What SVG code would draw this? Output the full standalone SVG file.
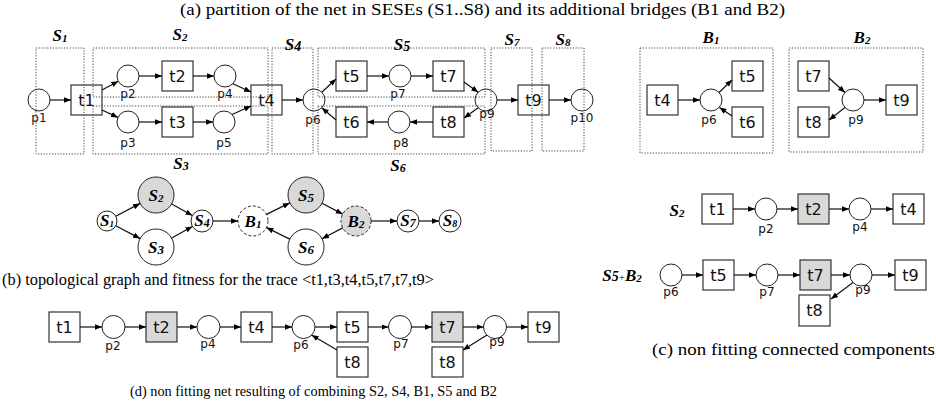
<svg xmlns="http://www.w3.org/2000/svg" width="936" height="409" viewBox="0 0 936 409">
<style>
.t{fill:#fff;stroke:#333;stroke-width:1.2}
.tg{fill:#d9d9d9;stroke:#333;stroke-width:1.2}
.p{fill:#fff;stroke:#222;stroke-width:1}
.pg{fill:#d9d9d9;stroke:#222;stroke-width:1}
.pd{fill:#fff;stroke:#222;stroke-width:1;stroke-dasharray:3 2}
.pdg{fill:#d9d9d9;stroke:#222;stroke-width:1;stroke-dasharray:3 2}
.box{fill:none;stroke:#444;stroke-width:1;stroke-dasharray:1.2 1.6}
.lt{font-family:"DejaVu Sans",sans-serif;font-size:16px;text-anchor:middle;fill:#111}
.lp{font-family:"DejaVu Sans",sans-serif;font-size:12px;text-anchor:middle;fill:#111}
.m{font-family:"Liberation Serif",serif;font-weight:bold;font-style:italic;font-size:17px;text-anchor:middle;fill:#000}
.cap{font-family:"Liberation Serif",serif;fill:#000}
.e{fill:none;stroke:#111;stroke-width:1.2;marker-end:url(#ah)}
</style>
<defs>
<marker id="ah" viewBox="0 0 10 10" refX="10" refY="5" markerWidth="7" markerHeight="7" markerUnits="userSpaceOnUse" orient="auto"><path d="M0,1 L10,5 L0,9 z" fill="#000"/></marker>
</defs>

<text class="cap" x="180" y="15" font-size="16" textLength="605" lengthAdjust="spacingAndGlyphs">(a) partition of the net in SESEs (S1..S8) and its additional bridges (B1 and B2)</text>
<text class="cap" x="2" y="285" font-size="16" textLength="432" lengthAdjust="spacingAndGlyphs">(b) topological graph and fitness for the trace &lt;t1,t3,t4,t5,t7,t7,t9&gt;</text>
<text class="cap" x="652" y="355" font-size="17" textLength="283" lengthAdjust="spacingAndGlyphs">(c) non fitting connected components</text>
<text class="cap" x="130" y="396" font-size="14.5" textLength="367" lengthAdjust="spacingAndGlyphs">(d) non fitting net resulting of combining S2, S4, B1, S5 and B2</text>

<!-- Part (a) nodes -->
<g id="a-p1"><circle class="p" cx="39" cy="100" r="11"/><text class="lp" x="39" y="122">p1</text></g>
<g id="a-t1"><rect class="t" x="71" y="85" width="31" height="30"/><text class="lt" x="86.5" y="106">t1</text></g>
<g id="a-p2"><circle class="p" cx="128" cy="76" r="11"/><text class="lp" x="128" y="98">p2</text></g>
<g id="a-p3"><circle class="p" cx="128" cy="122" r="11"/><text class="lp" x="128" y="147">p3</text></g>
<g id="a-t2"><rect class="t" x="162" y="61" width="31" height="30"/><text class="lt" x="177.5" y="82">t2</text></g>
<g id="a-t3"><rect class="t" x="162" y="107" width="31" height="30"/><text class="lt" x="177.5" y="128">t3</text></g>
<g id="a-p4"><circle class="p" cx="225" cy="76" r="11"/><text class="lp" x="225" y="98">p4</text></g>
<g id="a-p5"><circle class="p" cx="224" cy="122" r="11"/><text class="lp" x="224" y="147">p5</text></g>
<g id="a-t4"><rect class="t" x="251" y="85" width="31" height="30"/><text class="lt" x="266.5" y="106">t4</text></g>
<g id="a-p6"><circle class="p" cx="314" cy="100" r="11"/><text class="lp" x="313" y="124">p6</text></g>
<g id="a-t5"><rect class="t" x="336" y="61" width="31" height="30"/><text class="lt" x="351.5" y="82">t5</text></g>
<g id="a-p7"><circle class="p" cx="400" cy="76" r="11"/><text class="lp" x="398" y="98">p7</text></g>
<g id="a-t7"><rect class="t" x="433" y="61" width="31" height="30"/><text class="lt" x="448.5" y="82">t7</text></g>
<g id="a-t6"><rect class="t" x="336" y="107" width="31" height="30"/><text class="lt" x="351.5" y="128">t6</text></g>
<g id="a-p8"><circle class="p" cx="399" cy="122" r="11"/><text class="lp" x="401" y="147">p8</text></g>
<g id="a-t8"><rect class="t" x="433" y="107" width="31" height="30"/><text class="lt" x="448.5" y="128">t8</text></g>
<g id="a-p9"><circle class="p" cx="486" cy="100" r="11"/><text class="lp" x="487" y="118">p9</text></g>
<g id="a-t9"><rect class="t" x="518" y="85" width="31" height="30"/><text class="lt" x="533.5" y="106">t9</text></g>
<g id="a-p10"><circle class="p" cx="582" cy="100" r="11"/><text class="lp" x="582" y="122">p10</text></g>

<!-- SESE boxes -->
<g id="sese-boxes">
<rect class="box" x="36" y="48" width="48" height="106"/>
<rect class="box" x="93" y="48" width="175" height="49"/>
<rect class="box" x="93" y="106" width="175" height="48"/>
<rect class="box" x="272" y="48" width="41" height="106"/>
<rect class="box" x="318" y="48" width="167" height="49"/>
<rect class="box" x="318" y="106" width="167" height="48"/>
<rect class="box" x="491" y="48" width="41" height="103"/>
<rect class="box" x="542" y="48" width="42" height="103"/>
<rect class="box" x="640" y="48" width="133" height="105"/>
<rect class="box" x="789" y="48" width="134" height="104"/>
<text class="m" x="60" y="41">S<tspan font-size="11" dy="1">1</tspan></text>
<text class="m" x="180" y="40">S<tspan font-size="11" dy="1">2</tspan></text>
<text class="m" x="293" y="50">S<tspan font-size="14" dy="1">4</tspan></text>
<text class="m" x="402" y="50">S<tspan font-size="14" dy="1">5</tspan></text>
<text class="m" x="512" y="45">S<tspan font-size="11" dy="1">7</tspan></text>
<text class="m" x="563" y="45">S<tspan font-size="11" dy="1">8</tspan></text>
<text class="m" x="711" y="43">B<tspan font-size="11" dy="1">1</tspan></text>
<text class="m" x="862" y="43">B<tspan font-size="11" dy="1">2</tspan></text>
<text class="m" x="181" y="169">S<tspan font-size="12" dy="1">3</tspan></text>
<text class="m" x="398" y="171">S<tspan font-size="12" dy="1">6</tspan></text>
</g>

<!-- B1 / B2 nodes -->
<g id="b1-t4"><rect class="t" x="647" y="85" width="31" height="30"/><text class="lt" x="662.5" y="106">t4</text></g>
<g id="b1-p6"><circle class="p" cx="711" cy="100" r="11"/><text class="lp" x="709" y="124">p6</text></g>
<g id="b1-t5"><rect class="t" x="732" y="61" width="31" height="30"/><text class="lt" x="747.5" y="82">t5</text></g>
<g id="b1-t6"><rect class="t" x="732" y="107" width="31" height="30"/><text class="lt" x="747.5" y="128">t6</text></g>
<g id="b2-t7"><rect class="t" x="798" y="61" width="31" height="30"/><text class="lt" x="813.5" y="82">t7</text></g>
<g id="b2-t8"><rect class="t" x="798" y="107" width="31" height="30"/><text class="lt" x="813.5" y="128">t8</text></g>
<g id="b2-p9"><circle class="p" cx="853" cy="100" r="11"/><text class="lp" x="856" y="124">p9</text></g>
<g id="b2-t9"><rect class="t" x="886" y="85" width="31" height="30"/><text class="lt" x="901.5" y="106">t9</text></g>

<!-- Part (b) graph -->
<g id="g-S1"><circle class="p" cx="107" cy="221" r="10"/><text class="m" x="107" y="226" font-size="15">S<tspan font-size="9" dy="1">1</tspan></text></g>
<g id="g-S2"><circle class="pg" cx="156" cy="195" r="18"/><text class="m" x="156" y="201" font-size="18">S<tspan font-size="11" dy="1">2</tspan></text></g>
<g id="g-S3"><circle class="p" cx="156" cy="247" r="18"/><text class="m" x="156" y="253" font-size="18">S<tspan font-size="13" dy="1">3</tspan></text></g>
<g id="g-S4"><circle class="p" cx="202" cy="221" r="11"/><text class="m" x="202" y="226" font-size="15">S<tspan font-size="12" dy="1">4</tspan></text></g>
<g id="g-B1"><circle class="pd" cx="253" cy="221" r="15"/><text class="m" x="253" y="227" font-size="17">B<tspan font-size="11" dy="1">1</tspan></text></g>
<g id="g-S5"><circle class="pg" cx="306" cy="195" r="18"/><text class="m" x="306" y="201" font-size="18">S<tspan font-size="13" dy="1">5</tspan></text></g>
<g id="g-S6"><circle class="p" cx="306" cy="247" r="18"/><text class="m" x="306" y="253" font-size="18">S<tspan font-size="13" dy="1">6</tspan></text></g>
<g id="g-B2"><circle class="pdg" cx="356" cy="221" r="15"/><text class="m" x="356" y="227" font-size="17">B<tspan font-size="11" dy="1">2</tspan></text></g>
<g id="g-S7"><circle class="p" cx="408" cy="221" r="11"/><text class="m" x="408" y="226" font-size="15">S<tspan font-size="12" dy="1">7</tspan></text></g>
<g id="g-S8"><circle class="p" cx="450" cy="221" r="11"/><text class="m" x="450" y="226" font-size="15">S<tspan font-size="10" dy="1">8</tspan></text></g>

<!-- Part (c) -->
<g id="c-label-S2"><text class="m" x="677" y="216">S<tspan font-size="11" dy="1">2</tspan></text></g>
<g id="c-t1"><rect class="t" x="702" y="194" width="31" height="30"/><text class="lt" x="717.5" y="215">t1</text></g>
<g id="c-p2"><circle class="p" cx="766" cy="209" r="11"/><text class="lp" x="766" y="233">p2</text></g>
<g id="c-t2"><rect class="tg" x="798" y="194" width="31" height="30"/><text class="lt" x="813.5" y="215">t2</text></g>
<g id="c-p4"><circle class="p" cx="860" cy="209" r="11"/><text class="lp" x="860" y="231">p4</text></g>
<g id="c-t4"><rect class="t" x="893" y="194" width="31" height="30"/><text class="lt" x="908.5" y="215">t4</text></g>

<g id="c-label-S5B2"><text class="m" x="622" y="281">S<tspan font-size="14">5</tspan><tspan font-size="11" font-weight="normal" font-style="normal">+</tspan>B<tspan font-size="11" dy="1">2</tspan></text></g>
<g id="c-p6"><circle class="p" cx="671" cy="275" r="11"/><text class="lp" x="671" y="296">p6</text></g>
<g id="c-t5"><rect class="t" x="703" y="260" width="31" height="30"/><text class="lt" x="718.5" y="281">t5</text></g>
<g id="c-p7"><circle class="p" cx="767" cy="275" r="11"/><text class="lp" x="767" y="296">p7</text></g>
<g id="c-t7"><rect class="tg" x="800" y="260" width="31" height="30"/><text class="lt" x="815.5" y="281">t7</text></g>
<g id="c-p9"><circle class="p" cx="861" cy="275" r="11"/><text class="lp" x="863" y="294">p9</text></g>
<g id="c-t9"><rect class="t" x="895" y="260" width="31" height="30"/><text class="lt" x="910.5" y="281">t9</text></g>
<g id="c-t8"><rect class="t" x="799" y="295" width="31" height="31"/><text class="lt" x="814.5" y="316">t8</text></g>

<!-- Part (d) -->
<g id="d-t1"><rect class="t" x="49" y="312" width="31" height="30"/><text class="lt" x="64.5" y="333">t1</text></g>
<g id="d-p2"><circle class="p" cx="113.5" cy="327" r="11.5"/><text class="lp" x="113" y="350">p2</text></g>
<g id="d-t2"><rect class="tg" x="146" y="312" width="31" height="30"/><text class="lt" x="161.5" y="333">t2</text></g>
<g id="d-p4"><circle class="p" cx="208.5" cy="327" r="11.5"/><text class="lp" x="208" y="348">p4</text></g>
<g id="d-t4"><rect class="t" x="241" y="312" width="31" height="30"/><text class="lt" x="256.5" y="333">t4</text></g>
<g id="d-p6"><circle class="p" cx="303.5" cy="327" r="11.5"/><text class="lp" x="301" y="349">p6</text></g>
<g id="d-t5"><rect class="t" x="337" y="312" width="31" height="30"/><text class="lt" x="352.5" y="333">t5</text></g>
<g id="d-t8a"><rect class="t" x="337" y="347" width="31" height="30"/><text class="lt" x="352.5" y="368">t8</text></g>
<g id="d-p7"><circle class="p" cx="400" cy="327" r="11.5"/><text class="lp" x="401" y="348">p7</text></g>
<g id="d-t7"><rect class="tg" x="432" y="312" width="31" height="30"/><text class="lt" x="447.5" y="333">t7</text></g>
<g id="d-t8b"><rect class="t" x="432" y="347" width="31" height="30"/><text class="lt" x="447.5" y="368">t8</text></g>
<g id="d-p9"><circle class="p" cx="495" cy="327" r="11.5"/><text class="lp" x="497" y="346">p9</text></g>
<g id="d-t9"><rect class="t" x="528" y="312" width="31" height="30"/><text class="lt" x="543.5" y="333">t9</text></g>

<!-- Connectors -->
<g id="connectors">
<line class="e" x1="50" y1="100" x2="71" y2="100"/>
<line class="e" x1="102" y1="90" x2="118.3" y2="81.2"/>
<line class="e" x1="102" y1="110" x2="118" y2="117.4"/>
<line class="e" x1="139" y1="76" x2="162" y2="76"/>
<line class="e" x1="193" y1="76" x2="214" y2="76"/>
<line class="e" x1="139" y1="122" x2="162" y2="122"/>
<line class="e" x1="193" y1="122" x2="213" y2="122"/>
<line class="e" x1="232.8" y1="83.8" x2="251" y2="92"/>
<line class="e" x1="232" y1="114.5" x2="251" y2="106"/>
<line class="e" x1="282" y1="100" x2="303" y2="100"/>
<line class="e" x1="321.8" y1="92.2" x2="336" y2="79"/>
<line class="e" x1="336" y1="120" x2="321.8" y2="107.8"/>
<line class="e" x1="367" y1="76" x2="389" y2="76"/>
<line class="e" x1="411" y1="76" x2="433" y2="76"/>
<line class="e" x1="464" y1="82" x2="478.2" y2="92.2"/>
<line class="e" x1="478.2" y1="107.8" x2="464" y2="118"/>
<line class="e" x1="433" y1="122" x2="410" y2="122"/>
<line class="e" x1="388" y1="122" x2="367" y2="122"/>
<line class="e" x1="497" y1="100" x2="518" y2="100"/>
<line class="e" x1="549" y1="100" x2="571" y2="100"/>
<line class="e" x1="678" y1="100" x2="700" y2="100"/>
<line class="e" x1="719" y1="92.5" x2="732" y2="80"/>
<line class="e" x1="732" y1="116" x2="719.5" y2="107.5"/>
<line class="e" x1="829" y1="78" x2="845" y2="92.5"/>
<line class="e" x1="845" y1="107.5" x2="829" y2="120"/>
<line class="e" x1="864" y1="100" x2="886" y2="100"/>
<line class="e" x1="115.8" y1="216.3" x2="140.1" y2="203.4"/>
<line class="e" x1="115.8" y1="225.7" x2="140.1" y2="238.6"/>
<line class="e" x1="171.7" y1="203.9" x2="192.4" y2="215.6"/>
<line class="e" x1="171.7" y1="238.1" x2="192.4" y2="226.4"/>
<line class="e" x1="213" y1="221" x2="238" y2="221"/>
<line class="e" x1="266.5" y1="214.4" x2="289.8" y2="202.9"/>
<line class="e" x1="322" y1="203.3" x2="342.7" y2="214.1"/>
<line class="e" x1="342.7" y1="227.9" x2="322" y2="238.7"/>
<line class="e" x1="289.8" y1="239.1" x2="266.5" y2="227.6"/>
<line class="e" x1="371" y1="221" x2="397" y2="221"/>
<line class="e" x1="419" y1="221" x2="439" y2="221"/>
<line class="e" x1="733" y1="209" x2="755" y2="209"/>
<line class="e" x1="777" y1="209" x2="798" y2="209"/>
<line class="e" x1="829" y1="209" x2="849" y2="209"/>
<line class="e" x1="871" y1="209" x2="893" y2="209"/>
<line class="e" x1="682" y1="275" x2="703" y2="275"/>
<line class="e" x1="734" y1="275" x2="756" y2="275"/>
<line class="e" x1="778" y1="275" x2="800" y2="275"/>
<line class="e" x1="831" y1="275" x2="850" y2="275"/>
<line class="e" x1="872" y1="275" x2="895" y2="275"/>
<line class="e" x1="853" y1="282.5" x2="831" y2="299"/>
<line class="e" x1="80" y1="327" x2="102" y2="327"/>
<line class="e" x1="125" y1="327" x2="146" y2="327"/>
<line class="e" x1="177" y1="327" x2="197" y2="327"/>
<line class="e" x1="220" y1="327" x2="241" y2="327"/>
<line class="e" x1="272" y1="327" x2="292" y2="327"/>
<line class="e" x1="315" y1="327" x2="337" y2="327"/>
<line class="e" x1="337" y1="350" x2="311.5" y2="335"/>
<line class="e" x1="368" y1="327" x2="388.5" y2="327"/>
<line class="e" x1="411.5" y1="327" x2="432" y2="327"/>
<line class="e" x1="463" y1="327" x2="483.5" y2="327"/>
<line class="e" x1="506.5" y1="327" x2="528" y2="327"/>
<line class="e" x1="487" y1="335" x2="463" y2="350"/>
</g>
</svg>
